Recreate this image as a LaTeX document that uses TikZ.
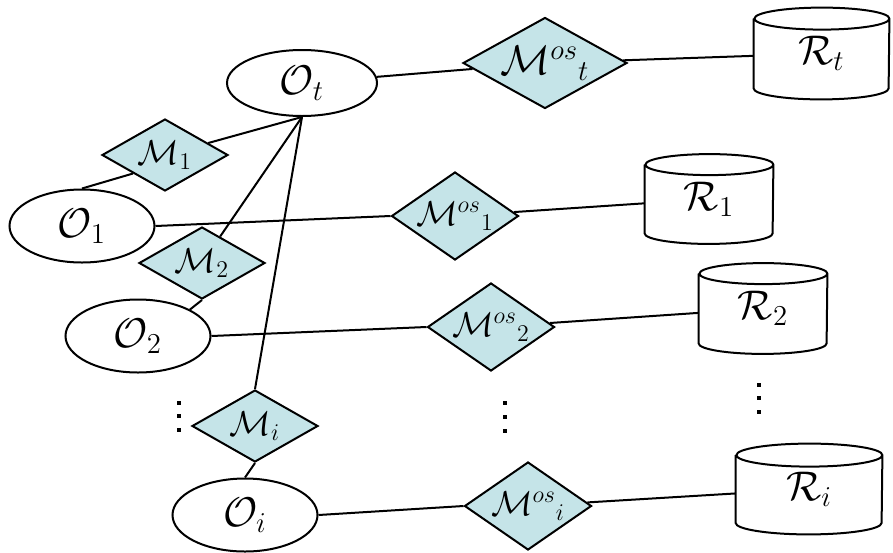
\documentclass[tikz,border=0pt]{standalone}
\usetikzlibrary{shapes.geometric,calc}
\definecolor{relfill}{RGB}{197,228,232}
\tikzset{
  x=0.5pt, y=-0.5pt,
  link/.style={line width=1pt},
  entity/.style={ellipse, draw, line width=1pt, inner sep=0pt,
    minimum width=72.5pt, minimum height=36.5pt, font=\huge},
  rel/.style={diamond, draw, line width=1pt, fill=relfill, inner sep=0pt,
    minimum width=63pt, minimum height=36pt,
    label={[font=\LARGE]center:#1}},
  relos/.style={rel=#1, minimum width=63.5pt, minimum height=44pt},
  store/.style={rectangle, inner sep=0pt, font=\huge},
  gapdot/.style={fill, inner sep=0pt, minimum size=2.2pt},
}
% outline of a storage drum around a named rectangle node
\newcommand\drumoutline[3]{%
  \draw[link] (#1.north west) -- (#1.south west)
    arc[start angle=180, end angle=360, x radius=#2, y radius=#3]
    -- (#1.north east)
    arc[start angle=0, end angle=360, x radius=#2, y radius=#3];}
\begin{document}
\begin{tikzpicture}
\useasboundingbox (0,0) rectangle (893,552);

% sources
\node[entity, minimum width=75pt, minimum height=33pt] (Ot) at (302,83) {$\mathcal{O}_t$};
\node[entity] (O1) at (82,226) {$\mathcal{O}_1$};
\node[entity] (O2) at (138,336) {$\mathcal{O}_2$};
\node[entity] (Oi) at (245,515) {$\mathcal{O}_i$};

% mappings between sources
\node[rel={$\mathcal{M}_1$}] (M1) at (165,155) {};
\node[rel={$\mathcal{M}_2$}] (M2) at (202,263) {};
\node[rel={$\mathcal{M}_i$}] (Mi) at (255,426) {};

% mappings to the stores
\node[relos={\huge$\mathcal{M}^{os}{}_{t}$}, minimum width=82pt, minimum height=45.5pt] (Most) at (545,63) {};
\node[relos={\LARGE$\mathcal{M}^{os}{}_{1}$}] (Mos1) at (455,216) {};
\node[relos={\LARGE$\mathcal{M}^{os}{}_{2}$}] (Mos2) at (491,327) {};
\node[relos={\LARGE$\mathcal{M}^{os}{}_{i}$}] (Mosi) at (528,506) {};

% stores
\node[store, minimum width=67.5pt, minimum height=34.5pt] (Rt) at (821.5,53.5) {$\mathcal{R}_t$};
\node[store, minimum width=64pt, minimum height=34pt] (R1) at (709,199) {$\mathcal{R}_1$};
\node[store, minimum width=64pt, minimum height=34.5pt] (R2) at (763,308.5) {$\mathcal{R}_2$};
\node[store, minimum width=73pt, minimum height=33.5pt] (Ri) at (809,489) {$\mathcal{R}_i$};
\drumoutline{Rt}{33.75pt}{5.5pt}
\drumoutline{R1}{32pt}{5.25pt}
\drumoutline{R2}{32pt}{5.25pt}
\drumoutline{Ri}{36.5pt}{5.75pt}

% connectors
\draw[link] (Ot) -- (Most);
\draw[link] (Most) -- (Rt);
\draw[link] (Ot.south) -- (M1);
\draw[link] (Ot.south) -- (M2);
\draw[link] (Ot.south) -- (Mi.north);
\draw[link] (M1.south west) -- (O1.north);
\draw[link] (M2.south) -- (O2.27);
\draw[link] (Mi.south) -- (Oi.north);
\draw[link] (O1.east) -- (Mos1.west);
\draw[link] (Mos1) -- (R1);
\draw[link] (O2.east) -- (Mos2.west);
\draw[link] (Mos2) -- (R2);
\draw[link] (Oi.east) -- (Mosi.west);
\draw[link] (Mosi) -- (Ri);

% elision marks
\foreach \y in {403,416,430} \node[gapdot] at (179,\y) {};
\foreach \y in {403,417,431} \node[gapdot] at (505,\y) {};
\foreach \y in {385,398,412} \node[gapdot] at (759,\y) {};
\end{tikzpicture}
\end{document}
